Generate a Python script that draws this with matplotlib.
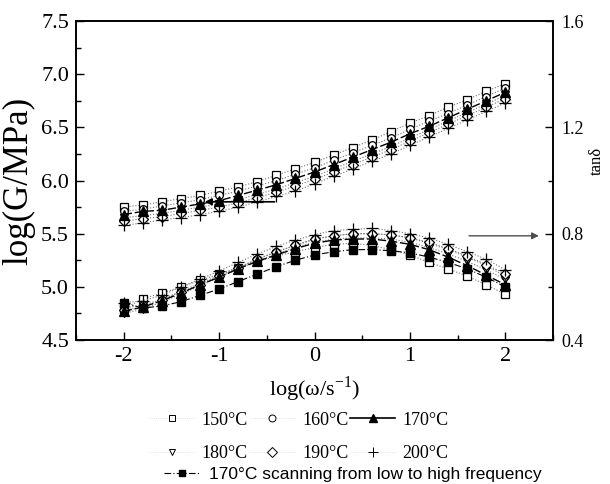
import matplotlib
matplotlib.use('Agg')
import matplotlib.pyplot as plt
from matplotlib.lines import Line2D
from matplotlib.ticker import MultipleLocator
import numpy as np

plt.rcParams['font.family'] = ['Liberation Serif', 'DejaVu Serif']
plt.rcParams['mathtext.fontset'] = 'custom'
plt.rcParams['mathtext.rm'] = 'Liberation Serif'

# log(omega / s^-1)
logw = [-2.0, -1.8, -1.6, -1.4, -1.2, -1.0, -0.8, -0.6, -0.4, -0.2, 0.0,
        0.2, 0.4, 0.6, 0.8, 1.0, 1.2, 1.4, 1.6, 1.8, 2.0]

# log(G/MPa)
G150 = [5.75, 5.77, 5.80, 5.83, 5.86, 5.90, 5.94, 5.99, 6.05, 6.11, 6.17,
        6.24, 6.31, 6.38, 6.46, 6.54, 6.61, 6.69, 6.76, 6.84, 6.91]
G160 = [5.71, 5.73, 5.76, 5.79, 5.82, 5.86, 5.90, 5.95, 6.00, 6.06, 6.12,
        6.19, 6.26, 6.33, 6.40, 6.48, 6.56, 6.63, 6.71, 6.79, 6.87]
G170 = [5.68, 5.71, 5.72, 5.75, 5.78, 5.81, 5.86, 5.91, 5.96, 6.02, 6.08,
        6.15, 6.22, 6.29, 6.36, 6.44, 6.51, 6.59, 6.67, 6.75, 6.83]
G180 = [5.65, 5.67, 5.69, 5.72, 5.75, 5.78, 5.82, 5.87, 5.92, 5.98, 6.04,
        6.11, 6.18, 6.25, 6.32, 6.40, 6.48, 6.56, 6.64, 6.72, 6.80]
G190 = [5.62, 5.64, 5.66, 5.69, 5.72, 5.75, 5.79, 5.84, 5.89, 5.95, 6.01,
        6.08, 6.15, 6.22, 6.29, 6.37, 6.45, 6.53, 6.61, 6.69, 6.77]
G200 = [5.58, 5.60, 5.63, 5.65, 5.68, 5.71, 5.75, 5.80, 5.85, 5.90, 5.97,
        6.04, 6.11, 6.18, 6.25, 6.33, 6.41, 6.49, 6.57, 6.65, 6.73]

# tan delta
T150 = [0.516, 0.556, 0.576, 0.600, 0.624, 0.648, 0.672, 0.696, 0.716, 0.732, 0.748,
        0.760, 0.764, 0.756, 0.740, 0.720, 0.692, 0.668, 0.640, 0.608, 0.572]
T160 = [0.520, 0.532, 0.552, 0.584, 0.612, 0.644, 0.672, 0.704, 0.732, 0.756, 0.780,
        0.792, 0.800, 0.800, 0.796, 0.784, 0.764, 0.740, 0.712, 0.680, 0.640]
T170 = [0.508, 0.524, 0.548, 0.576, 0.608, 0.636, 0.668, 0.696, 0.720, 0.744, 0.764,
        0.776, 0.780, 0.780, 0.772, 0.760, 0.740, 0.712, 0.680, 0.644, 0.608]
T180 = [0.500, 0.516, 0.544, 0.572, 0.604, 0.636, 0.668, 0.696, 0.724, 0.748, 0.768,
        0.780, 0.784, 0.784, 0.780, 0.768, 0.748, 0.724, 0.696, 0.664, 0.628]
T190 = [0.512, 0.524, 0.552, 0.580, 0.608, 0.640, 0.672, 0.704, 0.732, 0.756, 0.780,
        0.792, 0.800, 0.800, 0.796, 0.784, 0.768, 0.744, 0.716, 0.684, 0.648]
T200 = [0.540, 0.548, 0.568, 0.600, 0.628, 0.660, 0.692, 0.724, 0.752, 0.776, 0.796,
        0.812, 0.816, 0.820, 0.812, 0.800, 0.784, 0.760, 0.732, 0.704, 0.664]
T170scan = [0.540, 0.520, 0.528, 0.544, 0.568, 0.592, 0.620, 0.648, 0.676, 0.700, 0.720,
            0.732, 0.740, 0.740, 0.736, 0.728, 0.712, 0.692, 0.668, 0.636, 0.600]

labels = [u'150\u00b0C', u'160\u00b0C', u'170\u00b0C', u'180\u00b0C', u'190\u00b0C', u'200\u00b0C']
Gs = [G150, G160, G170, G180, G190, G200]
Ts = [T150, T160, T170, T180, T190, T200]
markers = ['s', 'o', '^', 'v', 'D', '+']
msizes = [5.5, 5.5, 6.5, 5.5, 5, 8]

fig = plt.figure(figsize=(6.1, 4.84), dpi=100)
ax = fig.add_axes([0.1246, 0.2975, 0.782, 0.659])
ax2 = ax.twinx()

for i in range(6):
    if markers[i] == '^':
        ls, lw, col, fc = (0, (6, 2)), 1.0, 'black', 'black'
    else:
        ls, lw, col, fc = ':', 0.8, '0.45', 'white'
    z = 5 if markers[i] == '^' else 3
    ax.plot(logw, Gs[i], linestyle=ls, color=col, lw=lw, marker=markers[i],
            ms=msizes[i], mfc=fc, mec='black', mew=0.9, zorder=z)
    ax2.plot(logw, Ts[i], linestyle=ls, color=col, lw=lw, marker=markers[i],
             ms=msizes[i], mfc=fc, mec='black', mew=0.9, zorder=z)

ax2.plot(logw, T170scan, linestyle=(0, (6, 2, 1, 2)), color='black', lw=0.8,
         marker='s', ms=5.5, mfc='black', mec='black', zorder=4)

ax.set_xlim(-2.5, 2.5)
ax.set_ylim(4.5, 7.5)
ax2.set_ylim(0.4, 1.6)
ax.xaxis.set_major_locator(MultipleLocator(1))
ax.xaxis.set_minor_locator(MultipleLocator(0.5))
ax.yaxis.set_major_locator(MultipleLocator(0.5))
ax.yaxis.set_minor_locator(MultipleLocator(0.25))
ax2.yaxis.set_major_locator(MultipleLocator(0.4))
ax2.yaxis.set_minor_locator(MultipleLocator(0.2))

for sp in ['left', 'bottom', 'top', 'right']:
    ax.spines[sp].set_linewidth(1.2)
    ax2.spines[sp].set_linewidth(1.2)

ax.tick_params(axis='both', which='major', direction='in', length=6, width=1, labelsize=16,
               top=False, pad=5)
ax.tick_params(axis='both', which='minor', direction='in', length=3.5, width=1, top=False)
ax2.tick_params(axis='y', which='major', direction='in', length=6, width=1, labelsize=13, pad=6)
ax2.tick_params(axis='y', which='minor', direction='in', length=3.5, width=1)
ax.set_xticklabels(['', '-2', '-1', '0', '1', '2', ''])

ax.set_ylabel('log(G/MPa)', fontsize=25, labelpad=4)
ax2.set_ylabel(u'tan\u03b4', fontsize=12)
ax2.yaxis.set_label_coords(1.075, 0.56)
ax.set_xlabel(u'log(\u03c9/s$^{\\mathrm{-1}}$)', fontsize=16, labelpad=6)

# arrows pointing at the axes
ax.annotate('', xy=(-1.18, 5.80), xytext=(-0.39, 5.80),
            arrowprops=dict(arrowstyle='-|>', color='black', lw=1.2, mutation_scale=10))
ax.annotate('', xy=(2.38, 5.48), xytext=(1.59, 5.48),
            arrowprops=dict(arrowstyle='-|>', color='0.3', lw=1.0, mutation_scale=10))

handles = []
for i in range(6):
    if markers[i] == '^':
        h = Line2D([], [], color='black', lw=1.2, marker='^', ms=6, mfc='black', mec='black')
    else:
        h = Line2D([], [], color='0.85', ls=':', lw=0.6, marker=markers[i],
                   ms=7 if markers[i] == '+' else 5, mfc='white', mec='black', mew=0.7)
    handles.append(h)

legkw = dict(ncol=3, loc='center', frameon=False, fontsize=13, handlelength=2.5,
             columnspacing=0.1, handletextpad=0.4, borderpad=0.1)
leg1 = fig.legend(handles[:3], labels[:3], bbox_to_anchor=(0.49, 0.132), **legkw)
leg2 = fig.legend(handles[3:], labels[3:], bbox_to_anchor=(0.49, 0.062), **legkw)

h2 = Line2D([], [], color='black', ls=(0, (6, 2, 1, 2)), lw=0.8, marker='s', ms=5,
            mfc='black', mec='black')
leg3 = fig.legend([h2], [u'170\u00b0C scanning from low to high frequency'], loc='center',
                  bbox_to_anchor=(0.578, 0.02), frameon=False, handlelength=2.1,
                  prop={'family': 'Liberation Sans', 'size': 12.5}, handletextpad=0.5,
                  borderpad=0.1)

fig.savefig('out.png', dpi=100)
